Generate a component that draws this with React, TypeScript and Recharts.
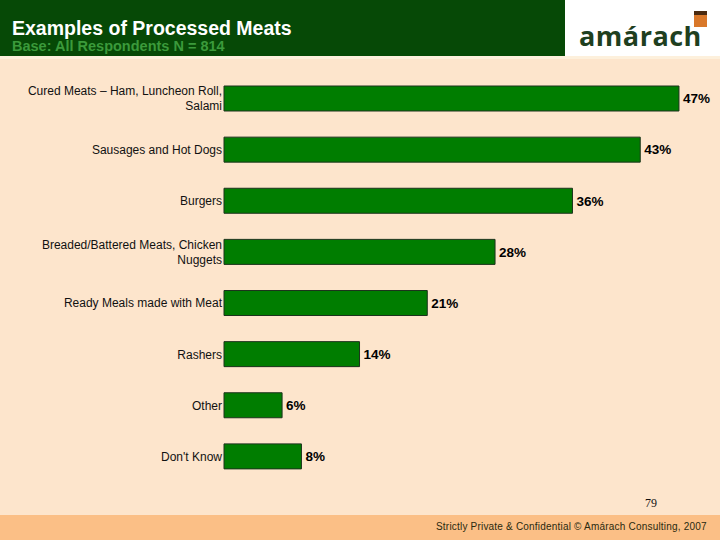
import { BarChart, Bar, XAxis, YAxis, LabelList } from 'recharts';

const categories = [
  'Cured Meats – Ham, Luncheon Roll,|Salami',
  'Sausages and Hot Dogs',
  'Burgers',
  'Breaded/Battered Meats, Chicken|Nuggets',
  'Ready Meals made with Meat',
  'Rashers',
  'Other',
  "Don't Know",
];
const shares = [47, 43, 36, 28, 21, 14, 6, 8];

const data = categories.map((name, i) => ({ name, value: shares[i] }));

const font = 'Arial, "Liberation Sans", Helvetica, sans-serif';

function CategoryTick({ x, y, payload }: any) {
  const lines = String(payload.value).split('|');
  const lineHeight = 15;
  const start = y - ((lines.length - 1) * lineHeight) / 2;
  const right = x + 6;
  return (
    <text x={right} y={start} textAnchor="end" fontSize={12} fill="#111" fontFamily={font}>
      {lines.map((line, i) => (
        <tspan key={i} x={right} y={start + i * lineHeight} dy="0.36em">
          {line}
        </tspan>
      ))}
    </text>
  );
}

export default function App() {
  return (
    <div
      style={{
        position: 'absolute',
        left: 0,
        top: 0,
        width: 720,
        height: 540,
        background: '#fde5cc',
        fontFamily: font,
        overflow: 'hidden',
      }}
    >
      {/* header */}
      <div style={{ position: 'absolute', left: 0, top: 0, width: 565, height: 56, background: '#064906' }} />
      <div style={{ position: 'absolute', left: 565, top: 0, width: 155, height: 56, background: '#ffffff' }} />
      <div style={{ position: 'absolute', left: 0, top: 56, width: 720, height: 3, background: '#fdf0dc' }} />
      <div
        style={{
          position: 'absolute',
          left: 12,
          top: 18,
          color: '#ffffff',
          fontWeight: 'bold',
          fontSize: 19.5,
          lineHeight: '20px',
        }}
      >
        Examples of Processed Meats
      </div>
      <div
        style={{
          position: 'absolute',
          left: 12,
          top: 39,
          color: '#3b9a3b',
          fontWeight: 'bold',
          fontSize: 14.5,
          lineHeight: '15px',
        }}
      >
        Base: All Respondents N = 814
      </div>
      <div
        style={{
          position: 'absolute',
          left: 579,
          top: 20,
          color: '#1f3f1f',
          fontSize: 27,
          fontWeight: 'bold',
          fontFamily: '"Open Sans", "DejaVu Sans", sans-serif',
          lineHeight: '32px',
          letterSpacing: 0.5,
        }}
      >
        amárach
      </div>
      <div style={{ position: 'absolute', left: 694, top: 11, width: 13, height: 16, background: '#d9782a' }} />
      <div style={{ position: 'absolute', left: 694, top: 11, width: 13, height: 4, background: '#4a2a10' }} />

      {/* chart */}
      <div style={{ position: 'absolute', left: 0, top: 0 }}>
        <BarChart
          width={720}
          height={540}
          data={data}
          layout="vertical"
          margin={{ top: 73, right: 12, bottom: 58, left: 0 }}
          barCategoryGap={0}
        >
          <XAxis type="number" domain={[0, 50]} hide />
          <YAxis
            type="category"
            dataKey="name"
            width={224}
            axisLine={false}
            tickLine={false}
            tick={<CategoryTick />}
            tickMargin={2}
            interval={0}
          />
          <Bar
            dataKey="value"
            fill="#007d00"
            stroke="#1c331c"
            strokeWidth={1}
            barSize={25}
            isAnimationActive={false}
          >
            <LabelList
              dataKey="value"
              position="right"
              offset={4}
              formatter={(v: any) => `${v}%`}
              style={{ fontSize: 13.5, fontWeight: 'bold', fill: '#000', fontFamily: font }}
            />
          </Bar>
        </BarChart>
      </div>

      {/* page number and footer */}
      <div
        style={{
          position: 'absolute',
          left: 645,
          top: 496,
          fontFamily: '"Liberation Serif", "DejaVu Serif", serif',
          fontSize: 12,
          color: '#111',
        }}
      >
        79
      </div>
      <div style={{ position: 'absolute', left: 0, top: 515, width: 720, height: 25, background: '#fbbf86' }} />
      <div
        style={{
          position: 'absolute',
          left: 436,
          top: 521,
          fontSize: 10,
          color: '#2a2a10',
          letterSpacing: 0.2,
          lineHeight: '12px',
        }}
      >
        Strictly Private &amp; Confidential © Amárach Consulting, 2007
      </div>
    </div>
  );
}
